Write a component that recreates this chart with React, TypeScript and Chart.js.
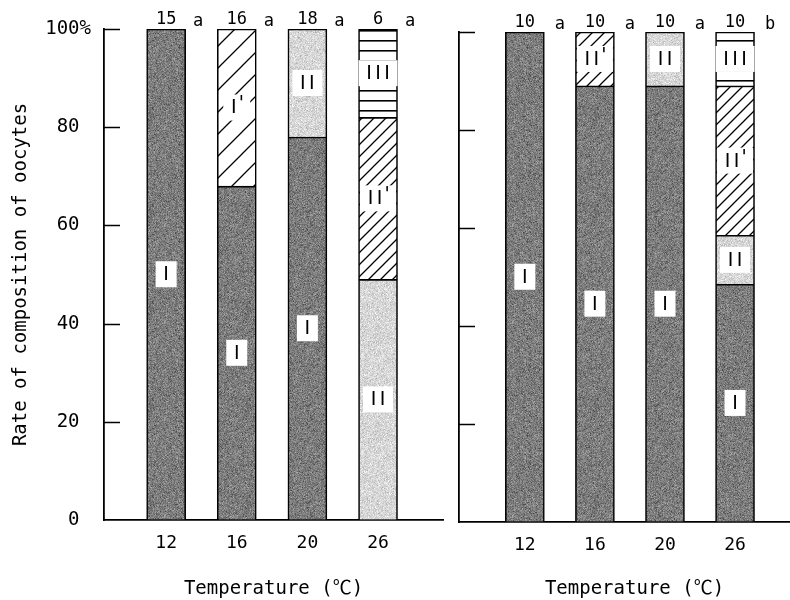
import React, { useEffect, useRef } from 'react';
import { Chart, registerables } from 'chart.js';
Chart.register(...registerables);

const MONO = '"DejaVu Sans Mono", "Noto Sans CJK JP", monospace';

const temperatures = ['12', '16', '20', '26'];
const stageNames = ['I', "I'", 'II', "II'", 'III'];
const yTickValues = [0, 20, 40, 60, 80, 100];

// Left panel (% composition)
const leftI = [100, 68, 78, null];
const leftIprime = [null, 32, null, null];
const leftII = [null, null, 22, 49];
const leftIIprime = [null, null, null, 33];
const leftIII = [null, null, null, 18];
const leftCounts = ['15', '16', '18', '6'];
const leftLetters = ['a', 'a', 'a', 'a'];

// Right panel (% composition)
const rightI = [100, 89, 89, 48.5];
const rightIprime = [null, null, null, null];
const rightII = [null, null, 11, 10];
const rightIIprime = [null, 11, null, 30.5];
const rightIII = [null, null, null, 11];
const rightCounts = ['10', '10', '10', '10'];
const rightLetters = ['a', 'a', 'a', 'b'];

function noiseValue(x: number, y: number, seed: number) {
  let h = Math.imul(x + 1, 374761393) ^ Math.imul(y + 1, 668265263) ^ Math.imul(seed + 3, 2246822519 | 0);
  h = Math.imul(h ^ (h >>> 13), 1274126177);
  h ^= h >>> 16;
  return (h >>> 0) / 4294967296;
}

function stipple(target: CanvasRenderingContext2D, base: number, spread: number, seed: number, speck: number) {
  const size = 97;
  const c = document.createElement('canvas');
  c.width = size;
  c.height = size;
  const ctx = c.getContext('2d')!;
  const img = ctx.createImageData(size, size);
  for (let y = 0; y < size; y++) {
    for (let x = 0; x < size; x++) {
      const r = noiseValue(x, y, seed);
      const r2 = noiseValue(x, y, seed + 11);
      let g = base + (r - 0.5) * spread;
      if (r2 < speck) g = base - spread * 0.9;
      else if (r2 > 1 - speck) g = base + spread * 0.8;
      g = Math.max(0, Math.min(255, g));
      const i = (y * size + x) * 4;
      img.data[i] = g;
      img.data[i + 1] = g;
      img.data[i + 2] = g;
      img.data[i + 3] = 255;
    }
  }
  ctx.putImageData(img, 0, 0);
  return target.createPattern(c, 'repeat')!;
}

function hatch(target: CanvasRenderingContext2D, s: number, lw: number) {
  const c = document.createElement('canvas');
  c.width = s;
  c.height = s;
  const ctx = c.getContext('2d')!;
  ctx.fillStyle = '#fff';
  ctx.fillRect(0, 0, s, s);
  ctx.strokeStyle = '#000';
  ctx.lineWidth = lw;
  ctx.beginPath();
  ctx.moveTo(0, s);
  ctx.lineTo(s, 0);
  ctx.moveTo(-2, 2);
  ctx.lineTo(2, -2);
  ctx.moveTo(s - 2, s + 2);
  ctx.lineTo(s + 2, s - 2);
  ctx.stroke();
  return target.createPattern(c, 'repeat')!;
}

function hlines(target: CanvasRenderingContext2D, s: number, lw: number) {
  const c = document.createElement('canvas');
  c.width = 8;
  c.height = s;
  const ctx = c.getContext('2d')!;
  ctx.fillStyle = '#fff';
  ctx.fillRect(0, 0, 8, s);
  ctx.fillStyle = '#000';
  ctx.fillRect(0, 0, 8, lw);
  return target.createPattern(c, 'repeat')!;
}

function buildChart(
  canvas: HTMLCanvasElement,
  series: (number | null)[][],
  counts: string[],
  letters: string[],
  opts: {
    yWidth: number;
    xHeight: number;
    top: number;
    right: number;
    xMin: number;
    xMax: number;
    showYLabels: boolean;
    letterOffset: number;
  }
) {
  const ctx = canvas.getContext('2d')!;
  const fills = [
    stipple(ctx, 124, 52, 1, 0.04),
    hatch(ctx, 22, 1.3),
    stipple(ctx, 214, 40, 5, 0.04),
    hatch(ctx, 12, 1.3),
    hlines(ctx, 10, 1.6),
  ];

  const datasets = series.map((vals, k) => ({
    label: stageNames[k],
    data: vals.map((v, i) => ({ x: i + 1, y: v })),
    backgroundColor: fills[k],
    borderColor: '#000',
    borderWidth: 1.6,
    barThickness: 39,
    stack: 's',
  }));

  const segmentLabels = {
    id: 'segmentLabels',
    afterDatasetsDraw(chart: any) {
      const c = chart.ctx as CanvasRenderingContext2D;
      c.save();
      chart.data.datasets.forEach((ds: any, d: number) => {
        const meta = chart.getDatasetMeta(d);
        ds.data.forEach((pt: any, i: number) => {
          if (pt.y == null) return;
          const el = meta.data[i];
          if (!el) return;
          const p = el.getProps(['x', 'y', 'base'], true);
          const mid = (p.y + p.base) / 2;
          const text: string = ds.label;
          const adv = (ch: string) => (ch === "'" ? 6 : 9);
          let tw = 0;
          for (const ch of text) tw += adv(ch);
          const bw = tw + 12;
          const bh = 26;
          c.fillStyle = '#fff';
          c.fillRect(p.x - bw / 2, mid - bh / 2, bw, bh);
          c.fillStyle = '#000';
          c.font = '19px "DejaVu Sans"';
          c.textAlign = 'center';
          c.textBaseline = 'middle';
          let cx = p.x - tw / 2;
          for (const ch of text) {
            const a = adv(ch);
            c.fillText(ch, cx + a / 2, ch === "'" ? mid - 3 : mid + 1);
            cx += a;
          }
        });
      });
      c.restore();
    },
  };

  const annotations = {
    id: 'annotations',
    afterDraw(chart: any) {
      const c = chart.ctx as CanvasRenderingContext2D;
      const xs = chart.scales.x;
      const ys = chart.scales.y;
      const area = chart.chartArea;
      c.save();
      // inward ticks
      c.strokeStyle = '#000';
      c.lineWidth = 1.5;
      ys.ticks.forEach((t: any) => {
        if (t.value === 0) return;
        const py = Math.round(ys.getPixelForValue(t.value)) + 0.5;
        c.beginPath();
        c.moveTo(area.left, py);
        c.lineTo(area.left + 16, py);
        c.stroke();
      });
      // counts and letters
      c.fillStyle = '#000';
      c.font = '17px ' + MONO;
      c.textBaseline = 'alphabetic';
      counts.forEach((n, i) => {
        const px = xs.getPixelForValue(i + 1);
        c.textAlign = 'center';
        c.fillText(n, px, area.top - 5);
        c.fillText(letters[i], px + opts.letterOffset, area.top - 3);
      });
      c.restore();
    },
  };

  return new Chart(canvas, {
    type: 'bar',
    data: { datasets },
    plugins: [segmentLabels, annotations],
    options: {
      animation: false,
      responsive: false,
      maintainAspectRatio: false,
      layout: { padding: { top: opts.top, right: opts.right, left: 0, bottom: 0 } },
      plugins: { legend: { display: false }, tooltip: { enabled: false } },
      scales: {
        x: {
          type: 'linear',
          stacked: true,
          offset: false,
          min: opts.xMin,
          max: opts.xMax,
          afterBuildTicks: (s: any) => {
            s.ticks = temperatures.map((_, i) => ({ value: i + 1 }));
          },
          afterFit: (s: any) => {
            s.height = opts.xHeight;
          },
          grid: { display: true, drawOnChartArea: false, drawTicks: false },
          border: { display: true, color: '#000', width: 1.8 },
          ticks: {
            autoSkip: false,
            maxRotation: 0,
            padding: 13,
            color: '#000',
            font: { family: MONO, size: 18 },
            callback: (v: any) => temperatures[Number(v) - 1] ?? '',
          },
          title: {
            display: true,
            text: 'Temperature (℃)',
            color: '#000',
            font: { family: MONO, size: 19 },
            padding: { top: 0, bottom: 0 },
          },
        },
        y: {
          stacked: true,
          min: 0,
          max: 100,
          afterBuildTicks: (s: any) => {
            s.ticks = yTickValues.map((v) => ({ value: v }));
          },
          afterFit: (s: any) => {
            s.width = opts.yWidth;
          },
          grid: { display: true, drawOnChartArea: false, drawTicks: false },
          border: { display: true, color: '#000', width: 1.8 },
          ticks: {
            display: opts.showYLabels,
            padding: 13,
            color: '#000',
            font: { family: MONO, size: 19 },
            callback: (v: any) => (Number(v) === 100 ? '100%' : v + ' '),
          },
          title: {
            display: opts.showYLabels,
            text: 'Rate of composition of oocytes',
            color: '#000',
            font: { family: MONO, size: 19 },
            padding: { top: 10, bottom: 0 },
          },
        },
      },
    },
  } as any);
}

export default function App() {
  const leftRef = useRef<HTMLCanvasElement>(null);
  const rightRef = useRef<HTMLCanvasElement>(null);

  useEffect(() => {
    const left = buildChart(
      leftRef.current!,
      [leftI, leftIprime, leftII, leftIIprime, leftIII],
      leftCounts,
      leftLetters,
      { yWidth: 104, xHeight: 80, top: 29, right: 7, xMin: 0.12, xMax: 4.92, showYLabels: true, letterOffset: 32 }
    );
    const right = buildChart(
      rightRef.current!,
      [rightI, rightIprime, rightII, rightIIprime, rightIII],
      rightCounts,
      rightLetters,
      { yWidth: 14, xHeight: 78, top: 32, right: 1, xMin: 0.06, xMax: 5.07, showYLabels: false, letterOffset: 35 }
    );
    return () => {
      left.destroy();
      right.destroy();
    };
  }, []);

  return (
    <div
      style={{
        position: 'fixed',
        left: 0,
        top: 0,
        width: 790,
        height: 600,
        overflow: 'hidden',
        background: '#fff',
      }}
    >
      <canvas
        ref={leftRef}
        width={450}
        height={600}
        style={{ position: 'absolute', left: 0, top: 0, width: 450, height: 600 }}
      />
      <canvas
        ref={rightRef}
        width={366}
        height={600}
        style={{ position: 'absolute', left: 445, top: 0, width: 366, height: 600 }}
      />
    </div>
  );
}
